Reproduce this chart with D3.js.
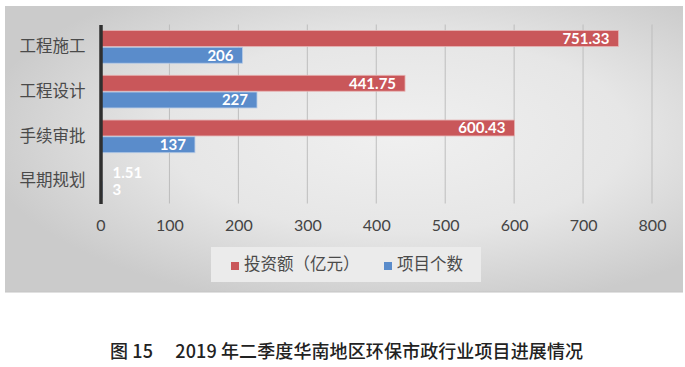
<!DOCTYPE html>
<html><head><meta charset="utf-8">
<script src="https://cdn.jsdelivr.net/npm/d3@7"></script>
<style>body{margin:0;background:#fff;} svg{display:block;}</style>
</head><body>
<script>
const categories = ["工程施工","工程设计","手续审批","早期规划"];
const investment = [751.33, 441.75, 600.43, 1.51];
const projectCount = [206, 227, 137, 3];
const seriesNames = ["投资额（亿元）","项目个数"];
const ticks = [0,100,200,300,400,500,600,700,800];
const caption = "图 15\u2003 2019 年二季度华南地区环保市政行业项目进展情况";

const W=685,H=367;
const svg=d3.select("body").append("svg").attr("width",W).attr("height",H);
const defs=svg.append("defs");
const g1=defs.append("radialGradient").attr("id","bg").attr("cx","58%").attr("cy","45%").attr("r","62%");
g1.append("stop").attr("offset","0%").attr("stop-color","#f0f0f0");
g1.append("stop").attr("offset","55%").attr("stop-color","#e6e6e6");
g1.append("stop").attr("offset","100%").attr("stop-color","#cbcbcb");
svg.append("rect").attr("x",5).attr("y",6).attr("width",678).attr("height",286).attr("fill","url(#bg)");
svg.append("line").attr("x1",5).attr("x2",683).attr("y1",292).attr("y2",292).attr("stroke","#c4c4c4");

const x=d3.scaleLinear().domain([0,800]).range([100.5,652]);
const y=d3.scaleBand().domain(categories).range([24.5,203.5]).paddingInner(0.27).paddingOuter(0.135);
const sub=d3.scaleBand().domain(seriesNames).range([0,y.bandwidth()]).paddingInner(0.05);
const colors=["#c9575a","#5a8ccb"];

// gridlines
svg.append("g").selectAll("line").data(ticks.slice(1)).join("line")
  .attr("x1",d=>x(d)).attr("x2",d=>x(d)).attr("y1",24.5).attr("y2",203.5)
  .attr("stroke","#bdbdbd").attr("stroke-width",1);

// tick labels via axis
const ax=svg.append("g").attr("transform","translate(0,203.5)")
  .call(d3.axisBottom(x).tickValues(ticks).tickSize(0).tickPadding(16).tickFormat(d3.format("d")));
ax.select(".domain").remove();
ax.selectAll("text").attr("font-family","Lato, 'Open Sans', sans-serif").attr("font-size",16).attr("fill","#444");

const series=[investment,projectCount];
series.forEach((vals,si)=>{
  const gg=svg.append("g");
  gg.selectAll("rect").data(categories).join("rect")
    .attr("x",x(0)).attr("y",(d)=>y(d)+sub(seriesNames[si]))
    .attr("width",(d,i)=>Math.max(0,x(vals[i])-x(0))).attr("height",sub.bandwidth())
    .attr("fill",colors[si]).attr("stroke",si==0?"#e7b2b2":"#b6cbe6").attr("stroke-width",0.8);
  gg.selectAll("text").data(categories).join("text")
    .attr("x",(d,i)=>{const w=x(vals[i])-x(0); return w>40? x(vals[i])-9 : x(0)+12;})
    .attr("text-anchor",(d,i)=>(x(vals[i])-x(0))>40?"end":"start")
    .attr("y",(d)=>y(d)+sub(seriesNames[si])+sub.bandwidth()/2)
    .attr("dy","0.36em")
    .attr("font-family","Lato, 'Open Sans', sans-serif").attr("font-weight","bold").attr("font-size",15)
    .attr("fill","#fff").text((d,i)=>String(vals[i]));
});

// y axis
const ay=svg.append("g").attr("transform","translate(100.5,0)")
  .call(d3.axisLeft(y).tickSize(0).tickPadding(15));
ay.select(".domain").attr("stroke","#2f2f2f").attr("stroke-width",3.5);
ay.selectAll("text").attr("font-family","'Noto Sans CJK SC', sans-serif").attr("font-size",16.5).attr("fill","#4a4a4a");

// legend
svg.append("rect").attr("x",211).attr("y",247).attr("width",270).attr("height",35).attr("fill","#ebebeb");
const lg=[{x:231,c:colors[0],t:seriesNames[0]},{x:384,c:colors[1],t:seriesNames[1]}];
lg.forEach(l=>{
  svg.append("rect").attr("x",l.x).attr("y",262).attr("width",8).attr("height",8).attr("fill",l.c);
  svg.append("text").attr("x",l.x+13).attr("y",264.5).attr("dy","0.36em")
    .attr("font-family","'Noto Sans CJK SC', sans-serif").attr("font-size",16.5).attr("fill","#4a4a4a").text(l.t);
});

svg.append("text").attr("x",110).attr("y",352).attr("dy","0.36em")
  .attr("font-family","'Noto Sans CJK SC', sans-serif").attr("font-weight","500").attr("font-size",18)
  .attr("textLength",473).attr("lengthAdjust","spacing")
  .attr("fill","#222").text(caption);
</script>
</body></html>
